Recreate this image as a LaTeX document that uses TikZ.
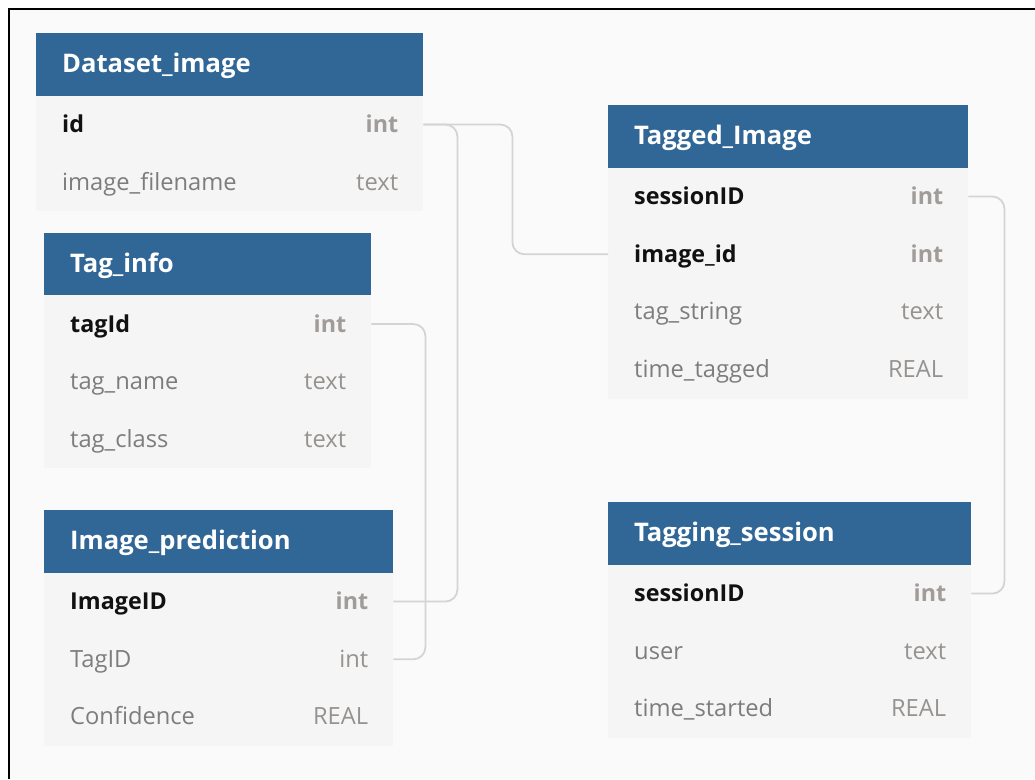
\documentclass[tikz,border=0pt]{standalone}
\usepackage{fontspec}
\setmainfont{Open Sans}
\definecolor{hdrblue}{RGB}{49,103,150}
\definecolor{rowbg}{RGB}{245,245,245}
\definecolor{canvas}{RGB}{250,250,250}
\definecolor{linkgray}{RGB}{212,212,212}
\definecolor{keytxt}{RGB}{17,17,17}
\definecolor{plaintxt}{RGB}{125,125,125}
\definecolor{typekeytxt}{RGB}{160,156,153}
\definecolor{typeplaintxt}{RGB}{150,146,143}
\tikzset{
  hdrbox/.style={fill=hdrblue, inner sep=0pt, minimum height=62.5pt, anchor=north west},
  hdrtxt/.style={anchor=base west, inner sep=0pt, text=white, font=\fontsize{25.6}{29}\selectfont\bfseries},
  rowbox/.style={fill=rowbg, inner sep=0pt, minimum height=57.7pt, anchor=north west},
  fieldkey/.style={anchor=base west, inner sep=0pt, text=keytxt, font=\fontsize{23.3}{27}\selectfont\bfseries},
  fieldplain/.style={anchor=base west, inner sep=0pt, text=plaintxt, font=\fontsize{23.7}{27}\selectfont},
  typekey/.style={anchor=base east, inner sep=0pt, text=typekeytxt, font=\fontsize{23.3}{27}\selectfont\bfseries},
  typeplain/.style={anchor=base east, inner sep=0pt, text=typeplaintxt, font=\fontsize{23.7}{27}\selectfont},
  conn/.style={draw=linkgray, line width=1.8pt, rounded corners=12pt},
}
% table header: name, left, top, width, title
\newcommand\erdhead[5]{%
  \node[hdrbox, minimum width=#4pt] (#1) at (#2,#3) {};
  \node[hdrtxt] (#1-title) at ([xshift=26pt, yshift=-8.5pt]#1.west) {#5};
}
% table row: name, left, top, width, field, type, kind (key/plain)
\newcommand\erdrow[7]{%
  \node[rowbox, minimum width=#4pt] (#1) at (#2,#3) {};
  \node[field#7] (#1-f) at ([xshift=26pt, yshift=-8pt]#1.west) {#5};
  \node[type#7] (#1-t) at ([xshift=-25pt, yshift=-8pt]#1.east) {#6};
}
\begin{document}
\begin{tikzpicture}[x=1pt, y=-1pt]
  \useasboundingbox (0,0) rectangle (1035,779);
  \fill[white] (0,0) rectangle (1035,779);
  \fill[canvas] (9,9) rectangle (1035,779);
  \draw[black, line width=1.8pt] (9,779) -- (9,9) -- (1035,9);

  % Dataset_image
  \erdhead{di}{36}{33}{387}{Dataset\_image}
  \erdrow{di-id}{36}{95.5}{387}{id}{int}{key}
  \erdrow{di-fn}{36}{153.2}{387}{image\_filename}{text}{plain}

  % Tag_info
  \erdhead{tg}{44}{232.5}{327}{Tag\_info}
  \erdrow{tg-id}{44}{295}{327}{tagId}{int}{key}
  \erdrow{tg-name}{44}{352.7}{327}{tag\_name}{text}{plain}
  \erdrow{tg-class}{44}{410.4}{327}{tag\_class}{text}{plain}

  % Image_prediction
  \erdhead{ip}{44}{510}{349}{Image\_prediction}
  \erdrow{ip-img}{44}{572.5}{349}{ImageID}{int}{key}
  \erdrow{ip-tag}{44}{630.2}{349}{TagID}{int}{plain}
  \erdrow{ip-conf}{44}{687.9}{349}{Confidence}{REAL}{plain}

  % Tagged_Image
  \erdhead{ti}{608}{105}{360}{Tagged\_Image}
  \erdrow{ti-sess}{608}{167.5}{360}{sessionID}{int}{key}
  \erdrow{ti-img}{608}{225.2}{360}{image\_id}{int}{key}
  \erdrow{ti-str}{608}{282.9}{360}{tag\_string}{text}{plain}
  \erdrow{ti-time}{608}{340.6}{360}{time\_tagged}{REAL}{plain}

  % Tagging_session
  \erdhead{ts}{608}{502}{363}{Tagging\_session}
  \erdrow{ts-sess}{608}{564.5}{363}{sessionID}{int}{key}
  \erdrow{ts-user}{608}{622.2}{363}{user}{text}{plain}
  \erdrow{ts-start}{608}{679.9}{363}{time\_started}{REAL}{plain}

  % relationships
  \draw[conn] (di-id.east) -- ++(34,0) |- (ip-img.east);
  \draw[conn] (di-id.east) -- ++(89,0) |- (ti-img.west);
  \draw[conn] (tg-id.east) -- ++(54,0) |- (ip-tag.east);
  \draw[conn] (ti-sess.east) -- ++(36,0) |- (ts-sess.east);
\end{tikzpicture}
\end{document}
